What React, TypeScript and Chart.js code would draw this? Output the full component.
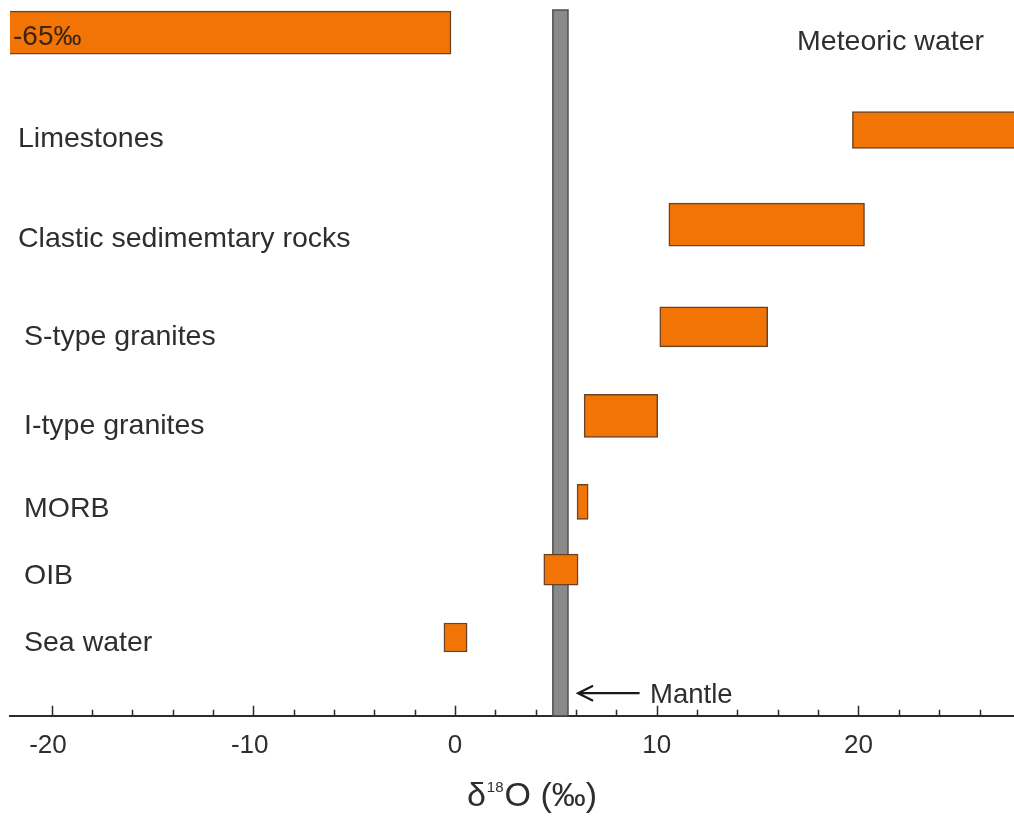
import { useEffect, useRef } from 'react';
import { Chart, registerables } from 'chart.js';

Chart.register(...registerables);

// ---- data -------------------------------------------------------------
const categories = [
  'Meteoric water',
  'Limestones',
  'Clastic sedimemtary rocks',
  'S-type granites',
  'I-type granites',
  'MORB',
  'OIB',
  'Sea water',
];
// δ18O range (‰) of each reservoir
const rangeLow = [-65, 19.7, 10.6, 10.15, 6.4, 6.05, 4.4, -0.55];
const rangeHigh = [-0.2, 30, 20.3, 15.5, 10.05, 6.6, 6.1, 0.6];
// vertical level of each row on the hidden 0–100 axis
const rowLevel = [96.8, 83.0, 69.6, 55.1, 42.5, 30.3, 20.7, 11.1];
const xTickValues = [-20, -10, 0, 10, 20];
const mantleRange = [4.85, 5.6];
const mantleLabel = 'Mantle';
const meteoricMinLabel = '-65‰';
const axisTitleParts = ['δ', '18', 'O (‰)'];

// ---- styles -----------------------------------------------------------
const FONT = "'Liberation Sans', Arial, Helvetica, sans-serif";
const TEXT = '#2e2e2e';
const BAR_FILL = '#F27405';
const BAR_EDGE = '#6a4224';
const AXIS = '#2b2b2b';
const barHeightPx = [43, 37, 43, 40, 43, 35, 31, 29];
const labelBaselineOffset = [17, 17, 22, 18, 18, 15, 14, 14];
const labelIndent = [0, 8, 8, 14, 14, 14, 14, 14];
const arrowGeom = { tip: 6.1, tail: 9.15, level: 3.2, textAt: 9.67 };

const decor = {
  id: 'decor',
  beforeDatasetsDraw(chart: any) {
    const { ctx, chartArea, scales } = chart;
    const x = scales.x;
    const l = x.getPixelForValue(mantleRange[0]);
    const r = x.getPixelForValue(mantleRange[1]);
    ctx.save();
    ctx.fillStyle = '#8a8a8a';
    ctx.fillRect(l, chartArea.top, r - l, chartArea.bottom - chartArea.top);
    ctx.strokeStyle = '#4f4f4f';
    ctx.lineWidth = 1.5;
    ctx.strokeRect(l, chartArea.top, r - l, chartArea.bottom - chartArea.top);
    ctx.restore();
  },
  afterDatasetsDraw(chart: any) {
    const { ctx, chartArea, scales } = chart;
    const x = scales.x;
    const y = scales.y;
    ctx.save();
    ctx.fillStyle = TEXT;
    ctx.textBaseline = 'alphabetic';
    ctx.font = `28.5px ${FONT}`;
    categories.forEach((name, i) => {
      const by = y.getPixelForValue(rowLevel[i]) + labelBaselineOffset[i];
      if (i === 0) {
        ctx.textAlign = 'right';
        ctx.fillText(name, chartArea.right - 30, by);
      } else {
        ctx.textAlign = 'left';
        ctx.fillText(name, chartArea.left + labelIndent[i], by);
      }
    });

    // lower bound of meteoric water, written inside its bar
    ctx.textAlign = 'left';
    ctx.font = `28px ${FONT}`;
    ctx.fillStyle = '#3d2410';
    ctx.fillText(meteoricMinLabel, chartArea.left + 3, y.getPixelForValue(rowLevel[0]) + 12.5);

    // arrow pointing at the mantle band
    const ay = y.getPixelForValue(arrowGeom.level);
    const tip = x.getPixelForValue(arrowGeom.tip);
    const tail = x.getPixelForValue(arrowGeom.tail);
    ctx.strokeStyle = '#1a1a1a';
    ctx.lineWidth = 2.2;
    ctx.beginPath();
    ctx.moveTo(tail, ay);
    ctx.lineTo(tip, ay);
    ctx.moveTo(tip + 15, ay - 7.5);
    ctx.lineTo(tip, ay);
    ctx.lineTo(tip + 15, ay + 7.5);
    ctx.stroke();
    ctx.fillStyle = TEXT;
    ctx.font = `27.5px ${FONT}`;
    ctx.fillText(mantleLabel, x.getPixelForValue(arrowGeom.textAt), ay + 9.5);
    ctx.restore();
  },
  afterDraw(chart: any) {
    const { ctx, chartArea, scales } = chart;
    const x = scales.x;
    ctx.save();
    // inward tick marks every 2‰, longer at every 10‰
    ctx.strokeStyle = AXIS;
    ctx.lineWidth = 1.5;
    ctx.beginPath();
    for (let v = -20; v <= 26; v += 2) {
      const px = Math.round(x.getPixelForValue(v)) + 0.5;
      const len = v % 10 === 0 ? 10 : 6;
      ctx.moveTo(px, chartArea.bottom);
      ctx.lineTo(px, chartArea.bottom - len);
    }
    ctx.stroke();

    // axis title with superscript mass number
    const big = `34px ${FONT}`;
    const small = `15px ${FONT}`;
    ctx.font = big;
    const w0 = ctx.measureText(axisTitleParts[0]).width;
    const w2 = ctx.measureText(axisTitleParts[2]).width;
    ctx.font = small;
    const w1 = ctx.measureText(axisTitleParts[1]).width + 2;
    const total = w0 + w1 + w2;
    const cx = (chartArea.left + chartArea.right) / 2 + 20;
    const base = chartArea.bottom + 90;
    let px = cx - total / 2;
    ctx.fillStyle = TEXT;
    ctx.textAlign = 'left';
    ctx.textBaseline = 'alphabetic';
    ctx.font = big;
    ctx.fillText(axisTitleParts[0], px, base);
    px += w0 + 1;
    ctx.font = small;
    ctx.fillText(axisTitleParts[1], px, base - 14);
    px += w1 - 1;
    ctx.font = big;
    ctx.fillText(axisTitleParts[2], px, base);
    ctx.restore();
  },
};

export default function App() {
  const canvasRef = useRef<HTMLCanvasElement | null>(null);

  useEffect(() => {
    const canvas = canvasRef.current;
    if (!canvas) return;

    const datasets = categories.map((name, i) => ({
      label: name,
      data: [{ x: [rangeLow[i], rangeHigh[i]], y: rowLevel[i] }],
      backgroundColor: BAR_FILL,
      borderColor: BAR_EDGE,
      borderWidth: 1.5,
      borderSkipped: false,
      grouped: false,
      barThickness: barHeightPx[i],
      maxBarThickness: barHeightPx[i],
      clip: 0,
    }));

    const chart = new Chart(canvas, {
      type: 'bar',
      data: { datasets } as any,
      options: {
        indexAxis: 'y',
        animation: false,
        responsive: false,
        devicePixelRatio: 1,
        layout: { padding: { top: 10, left: 10, right: 0, bottom: 41 } },
        plugins: {
          legend: { display: false },
          tooltip: { enabled: false },
          title: { display: false },
        },
        scales: {
          x: {
            type: 'linear',
            min: -22.06,
            max: 27.71,
            offset: false,
            grid: { display: false, drawTicks: false },
            border: { display: true, color: AXIS, width: 2 },
            afterBuildTicks: (scale: any) => {
              scale.ticks = xTickValues.map((v) => ({ value: v }));
            },
            ticks: {
              padding: 14,
              color: TEXT,
              font: { family: FONT, size: 26 },
              maxRotation: 0,
              autoSkip: false,
              callback: (v: any) => (Number(v) < 0 ? `${v}\u2008` : `${v}`),
            },
          },
          y: {
            type: 'linear',
            display: false,
            min: 0,
            max: 100,
            offset: false,
          },
        },
      } as any,
      plugins: [decor],
    });

    return () => chart.destroy();
  }, []);

  return (
    <div style={{ position: 'absolute', left: 0, top: 0, width: 1014, height: 816, background: '#ffffff' }}>
      <canvas ref={canvasRef} width={1014} height={816} style={{ display: 'block' }} />
    </div>
  );
}
